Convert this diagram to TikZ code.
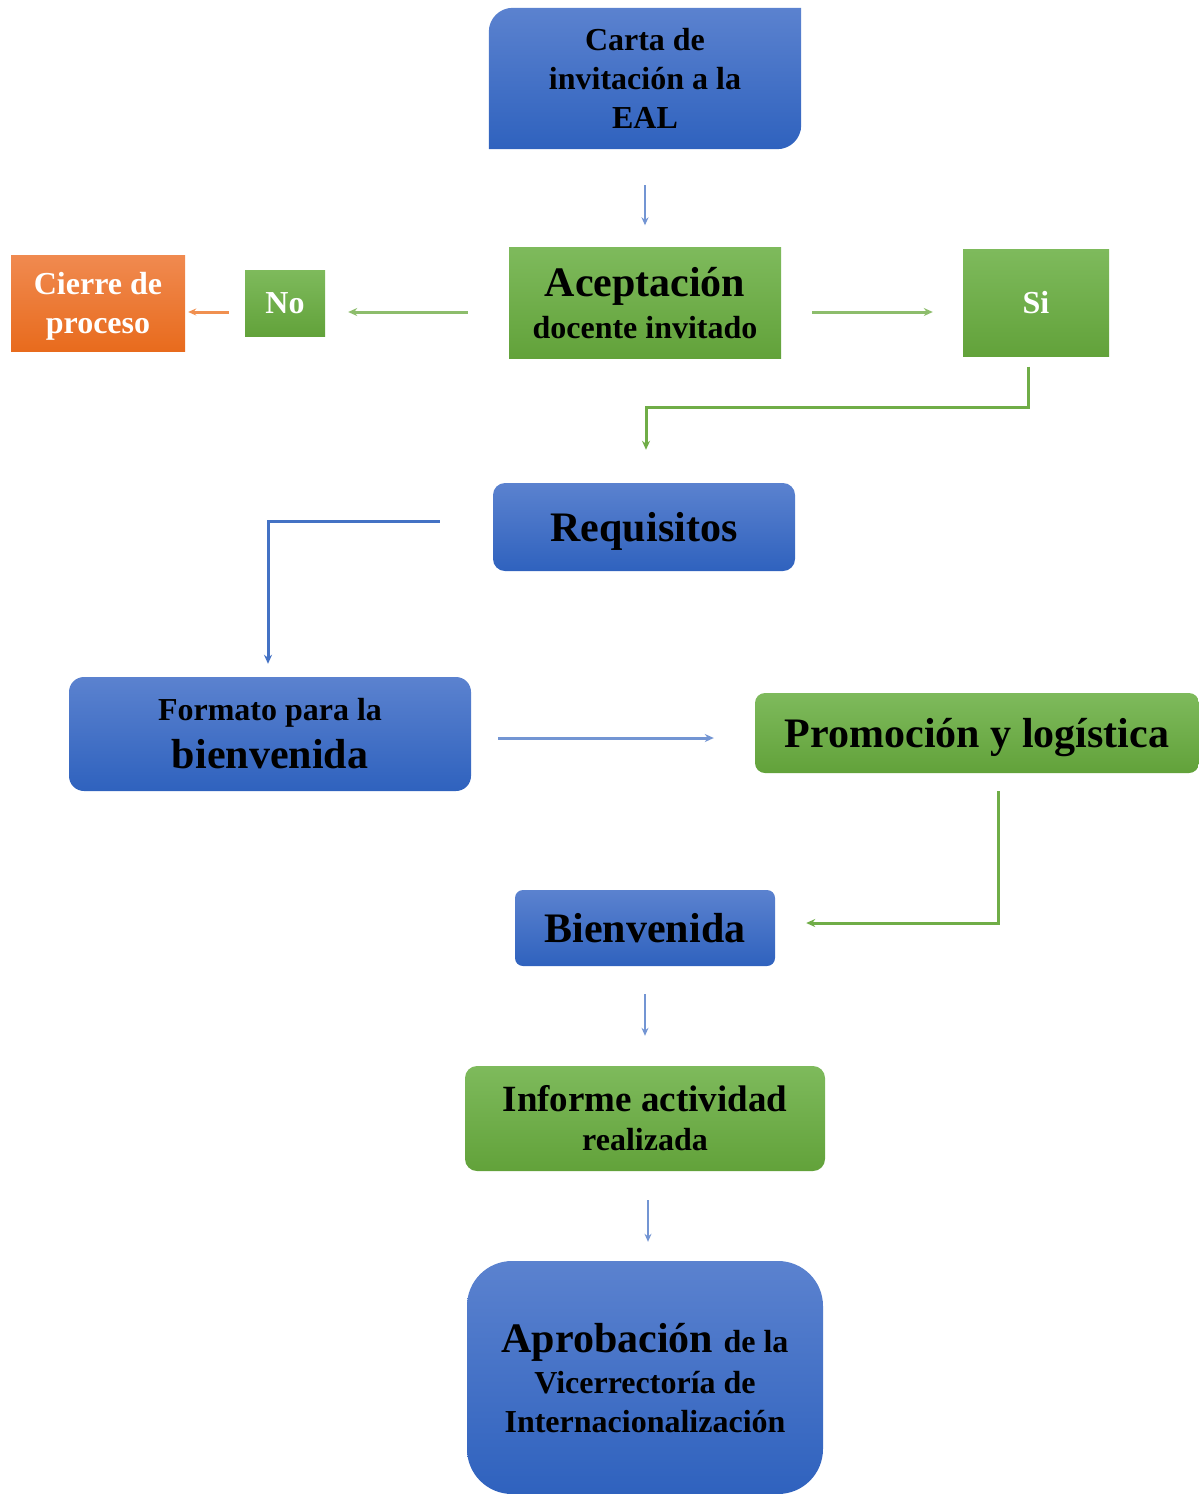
\documentclass[tikz,border=0pt]{standalone}
\usepackage{fontspec}
\setmainfont{Liberation Serif}
\usepackage{tikz}
\usetikzlibrary{arrows.meta,backgrounds}

\definecolor{bluetop}{HTML}{5B82CF}
\definecolor{bluebot}{HTML}{2F62BE}
\definecolor{greentop}{HTML}{7EBA5C}
\definecolor{greenbot}{HTML}{62A23A}
\definecolor{orangetop}{HTML}{F08A50}
\definecolor{orangebot}{HTML}{E86B1D}
\definecolor{blueline}{HTML}{4472C4}
\definecolor{greenline}{HTML}{70AD47}
\definecolor{orangeline}{HTML}{ED7D31}

\newcommand{\txtS}{\fontsize{32}{39}\selectfont}
\newcommand{\txtM}{\fontsize{37}{42}\selectfont}
\newcommand{\txtL}{\fontsize{42}{48}\selectfont}

\begin{document}
\begin{tikzpicture}[x=1pt,y=-1pt,
    box/.style={inner sep=0pt,align=center,font=\bfseries\txtS},
    bluebox/.style={box,top color=bluetop,bottom color=bluebot},
    greenbox/.style={box,top color=greentop,bottom color=greenbot},
    orangebox/.style={box,top color=orangetop,bottom color=orangebot,text=white},
    conn/.style={line width=3pt,-{Stealth[length=9pt,width=8pt]}},
    bconn/.style={conn,draw=blueline},
    gconn/.style={conn,draw=greenline},
    lbconn/.style={conn,draw=blueline!75},
    lgconn/.style={conn,draw=greenline!80},
    vconn/.style={line width=2pt,draw=blueline!75,-{Stealth[length=8pt,width=7pt]}}]
  \useasboundingbox (0,0) rectangle (1199,1494);

  \node[box,minimum width=312,minimum height=141] (carta) at (645,78.5)
    {Carta de\\invitación a la\\EAL};
  \begin{scope}[on background layer]
    \shade[top color=bluetop,bottom color=bluebot,rounded corners=24pt]
      (carta.south west) rectangle (carta.north east) [sharp corners]
      (carta.south west) rectangle (carta.center)
      (carta.north east) rectangle (carta.center);
  \end{scope}

  \node[greenbox,text depth=0pt,minimum width=272,minimum height=111] (acep) at (645,303)
    {\txtL Aceptación\\[3pt]docente invitado};
  \node[greenbox,text=white,minimum width=80,minimum height=66] (no) at (285,303)
    {No};
  \node[orangebox,text depth=0pt,minimum width=174,minimum height=96] (cierre) at (98,303)
    {Cierre de\\proceso};
  \node[greenbox,text=white,minimum width=146,minimum height=107] (si) at (1036,303)
    {Si};
  \node[bluebox,text depth=0pt,rounded corners=12pt,minimum width=302,minimum height=88] (req) at (644,527)
    {\txtL Requisitos};
  \node[bluebox,rounded corners=15pt,minimum width=402,minimum height=114] (form) at (270,734)
    {Formato para la\\[9pt]\txtL bienvenida};
  \node[greenbox,text depth=0pt,rounded corners=10pt,minimum width=444,minimum height=80] (prom) at (977,733)
    {\txtL Promoción y logística};
  \node[bluebox,rounded corners=8pt,minimum width=260,minimum height=76] (bien) at (645,928)
    {\txtL Bienvenida};
  \node[greenbox,rounded corners=12pt,minimum width=360,minimum height=105] (inf) at (645,1118.5)
    {\txtM Informe actividad\\realizada};
  \node[bluebox,text depth=0pt,rounded corners=45pt,minimum width=356,minimum height=233] (aprob) at (645,1377.5)
    {\txtL Aprobación \txtS de la\\[2pt]Vicerrectoría de\\Internacionalización};

  \draw[vconn,shorten <=36pt,shorten >=22pt] (carta) -- (acep);
  \draw[lgconn,shorten <=41pt,shorten >=23pt] ([yshift=-9pt]acep.west) -- ([yshift=-9pt]no.east);
  \draw[line width=3pt,draw=orangeline!85,-{Stealth[length=8pt,width=7pt]},shorten <=16pt,shorten >=3pt]
    ([yshift=-9pt]no.west) -- ([yshift=-9pt]cierre.east);
  \draw[lgconn,shorten <=31pt,shorten >=30pt] ([yshift=-9pt]acep.east) -- ([yshift=-9pt]si.west);
  \draw[gconn] ([xshift=-8pt,yshift=-10pt]si.south) -- ([xshift=-8pt,yshift=-51pt]si.south)
    -| ([xshift=2pt,yshift=33pt]req.north);
  \draw[bconn] ([xshift=-53pt,yshift=6pt]req.west) -| ([xshift=-2pt,yshift=13pt]form.north);
  \draw[lbconn,shorten <=27pt,shorten >=41pt] ([yshift=-4pt]form.east) -- ([yshift=-5pt]prom.west);
  \draw[gconn] ([xshift=21pt,yshift=-18pt]prom.south) |- ([xshift=31pt,yshift=5pt]bien.east);
  \draw[vconn,shorten <=28pt,shorten >=30pt] (bien) -- (inf);
  \draw[vconn,shorten <=29pt,shorten >=19pt] ([xshift=3pt]inf.south) -- ([xshift=3pt]aprob.north);
\end{tikzpicture}
\end{document}
